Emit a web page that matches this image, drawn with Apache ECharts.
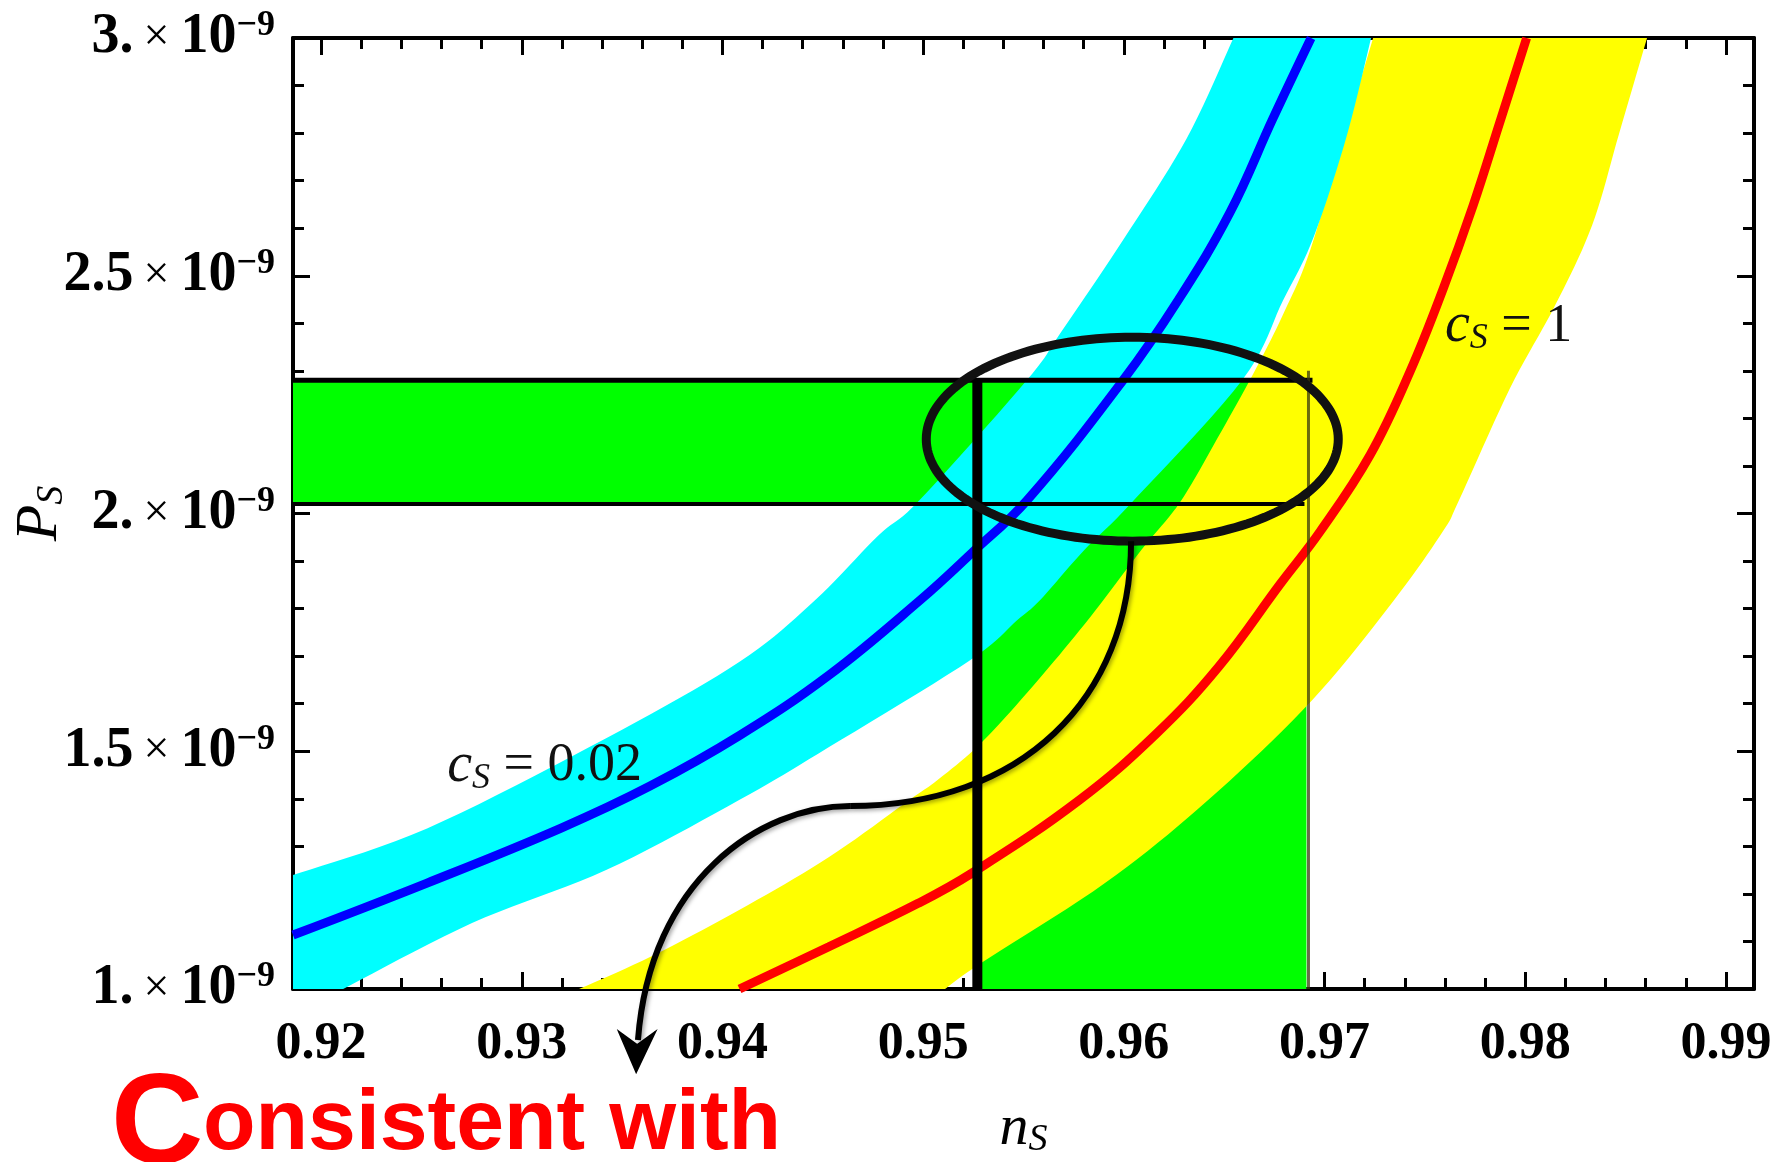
<!DOCTYPE html>
<html><head><meta charset="utf-8">
<script src="https://cdn.jsdelivr.net/npm/echarts@6/dist/echarts.min.js"></script>
<style>html,body{margin:0;padding:0;background:#fff}#c{width:1789px;height:1162px}</style>
</head><body><div id="c"></div>
<script>
// ---- axis ticks ----
const nsTicks = [0.92, 0.93, 0.94, 0.95, 0.96, 0.97, 0.98, 0.99];
const nsMinorTicks = [0.922,0.924,0.926,0.928,0.932,0.934,0.936,0.938,0.942,0.944,0.946,0.948,0.952,0.954,0.956,0.958,0.962,0.964,0.966,0.968,0.972,0.974,0.976,0.978,0.982,0.984,0.986,0.988];
const psTicks = [1, 1.5, 2, 2.5, 3];               // in units of 10^-9
const psTickLabels = ['1.', '1.5', '2.', '2.5', '3.'];
const nsRange = [0.9186, 0.9914];
const psRange = [1, 3];

// ---- curves (n_s, P_s / 1e-9) ----
const blueLine = [[0.9186,1.1135],[0.92528,1.2228],[0.93196,1.3384],[0.93639,1.4267],[0.94088,1.5339],[0.94531,1.66],[0.94985,1.8177],[0.95241,1.9164],[0.95518,2.0279],[0.95996,2.2801],[0.9627,2.4482],[0.96529,2.6332],[0.96743,2.8308],[0.96933,3.0]];
const redLine = [[0.94085,1.0],[0.9453,1.0889],[0.94975,1.1801],[0.95241,1.2432],[0.95778,1.3973],[0.96163,1.5375],[0.96472,1.6775],[0.96781,1.8528],[0.96978,1.9621],[0.97227,2.1231],[0.97426,2.2984],[0.97592,2.4735],[0.97741,2.6486],[0.97874,2.8238],[0.98007,3.0]];

// band edges, listed bottom -> top
const cyanUpperEdge = [[0.9186,1.2396],[0.92528,1.3378],[0.93418,1.527],[0.94085,1.688],[0.94461,1.8177],[0.94778,1.9543],[0.9498,2.0273],[0.95512,2.278],[0.9569,2.3831],[0.96001,2.5785],[0.96313,2.7887],[0.96546,3.0]];
const cyanLowerEdge = [[0.9211,1.0],[0.92752,1.1387],[0.9342,1.2501],[0.94083,1.3973],[0.94531,1.5087],[0.95234,1.6915],[0.95468,1.7756],[0.95582,1.8177],[0.95802,1.9228],[0.96031,2.0194],[0.96589,2.2801],[0.96793,2.4482],[0.96943,2.5785],[0.97107,2.7887],[0.97232,3.0]];
const yellowUpperEdge = [[0.93285,1.0],[0.93639,1.0673],[0.94083,1.1661],[0.94531,1.2775],[0.9493,1.3973],[0.95084,1.4435],[0.95303,1.5234],[0.95572,1.6495],[0.95832,1.7819],[0.96086,1.9228],[0.9628,2.0237],[0.96469,2.1603],[0.96654,2.3011],[0.96803,2.4272],[0.96928,2.5533],[0.97092,2.7887],[0.97242,3.0]];
const yellowLowerEdge = [[0.95109,1.0],[0.95289,1.0547],[0.95906,1.2228],[0.9642,1.3973],[0.96938,1.6075],[0.97346,1.8177],[0.9759,1.9627],[0.9767,2.0278],[0.97924,2.2633],[0.98149,2.4377],[0.98333,2.6059],[0.98468,2.7993],[0.98607,3.0]];

// observational window
const obsNs = [0.9527, 0.9691];
const obsPs = [2.02, 2.28];

// annotation (data coordinates)
const ellipseCenter = [0.96042, 2.1563];
const ellipseRadii = [0.010264, 0.2144];
const arrowCurve = [[0.96036,1.9417],[0.96036,1.6075],[0.95483,1.3847],[0.94636,1.3847],[0.94187,1.3847],[0.93639,1.2291],[0.93579,0.8928]];
const arrowHead = [[0.93485,0.9096],[0.9357,0.8256],[0.93664,0.9096],[0.93575,0.8823]];
const label002 = [0.92628, 1.4687];
const label1 = [0.976, 2.3936];

const SERIF = '"Liberation Serif","DejaVu Serif",serif';

// Catmull-Rom smoothing of an already-projected edge (pixel space)
function smoothEdge(px) {
  const out = [], n = px.length, steps = 10;
  for (let i = 0; i < n - 1; i++) {
    const p0 = px[Math.max(i - 1, 0)], p1 = px[i], p2 = px[i + 1], p3 = px[Math.min(i + 2, n - 1)];
    for (let s = 0; s < steps; s++) {
      const t = s / steps, t2 = t * t, t3 = t2 * t;
      const f = function (a, b, c, d) {
        return 0.5 * ((2 * b) + (-a + c) * t + (2 * a - 5 * b + 4 * c - d) * t2 + (-a + 3 * b - 3 * c + d) * t3);
      };
      out.push([f(p0[0], p1[0], p2[0], p3[0]), f(p0[1], p1[1], p2[1], p3[1])]);
    }
  }
  out.push(px[n - 1]);
  return out;
}

function bandSeries(parts, color, z) {
  const all = [].concat.apply([], parts.map(function (p) { return p.pts; }));
  return {
    type: 'custom', silent: true, z: z, data: all, encode: {x: 0, y: 1},
    renderItem: function (params, api) {
      if (params.dataIndex !== 0) return null;
      let pts = [];
      parts.forEach(function (p) {
        const px = p.pts.map(function (v) { return api.coord(v); });
        pts = pts.concat(p.smooth ? smoothEdge(px) : px);
      });
      return {type: 'polygon', shape: {points: pts}, style: {fill: color}};
    }
  };
}

const greenPoly = [[nsRange[0], obsPs[0]], [nsRange[0], obsPs[1]], [obsNs[1], obsPs[1]], [obsNs[1], psRange[0]], [obsNs[0], psRange[0]], [obsNs[0], obsPs[0]]];

function segLine(pts, width, color, z, opacity) {
  return {type: 'line', data: pts, symbol: 'none', silent: true, z: z, animation: false,
    lineStyle: {color: color, width: width, opacity: opacity == null ? 1 : opacity}};
}

const axisLineStyle = {show: true, lineStyle: {color: '#000', width: 4}};
function xAx(pos, major) {
  return {
    type: 'value', position: pos, min: nsRange[0], max: nsRange[1],
    axisLine: major ? axisLineStyle : {show: false},
    splitLine: {show: false},
    axisTick: {show: true, inside: true, length: major ? 17 : 11, customValues: major ? nsTicks : nsMinorTicks,
      lineStyle: {color: '#000', width: 3}},
    axisLabel: (major && pos === 'bottom') ? {
      show: true, customValues: nsTicks, margin: 30,
      formatter: function (v) { return v.toFixed(2); },
      fontFamily: SERIF, fontSize: 52, fontWeight: 'bold', color: '#000'
    } : {show: false},
    name: (major && pos === 'bottom') ? '{n|n}{s|S}' : '',
    nameLocation: 'middle', nameGap: 110, nameMoveOverlap: false,
    nameTextStyle: {rich: {
      n: {fontFamily: SERIF, fontStyle: 'italic', fontSize: 58, color: '#000', lineHeight: 60},
      s: {fontFamily: SERIF, fontStyle: 'italic', fontSize: 38, color: '#000', verticalAlign: 'bottom', lineHeight: 34}
    }}
  };
}
function yAx(pos) {
  const left = pos === 'left';
  return {
    type: 'value', position: pos, min: psRange[0], max: psRange[1], interval: 0.5,
    axisLine: axisLineStyle, splitLine: {show: false}, minorSplitLine: {show: false},
    axisTick: {show: true, inside: true, length: 17, lineStyle: {color: '#000', width: 3}},
    minorTick: {show: true, splitNumber: 5, length: 11, lineStyle: {color: '#000', width: 3}},
    axisLabel: left ? {
      show: true, margin: 18,
      formatter: function (v) {
        const i = psTicks.indexOf(v);
        return '{m|' + (i >= 0 ? psTickLabels[i] : v) + '}{x|\u00d7}{m|10}{s|\u22129}';
      },
      rich: {
        m: {fontFamily: SERIF, fontSize: 56, fontWeight: 'bold', color: '#000', lineHeight: 60},
        x: {fontFamily: SERIF, fontSize: 46, color: '#000', lineHeight: 60, padding: [0, 11, 0, 10]},
        s: {fontFamily: SERIF, fontSize: 36, fontWeight: 'bold', color: '#000', verticalAlign: 'top', lineHeight: 26}
      }
    } : {show: false},
    name: left ? '{p|P}{s|S}' : '',
    nameLocation: 'middle', nameRotate: 90, nameGap: 222, nameMoveOverlap: false,
    nameTextStyle: {rich: {
      p: {fontFamily: SERIF, fontStyle: 'italic', fontSize: 60, color: '#000', lineHeight: 62},
      s: {fontFamily: SERIF, fontStyle: 'italic', fontSize: 38, color: '#000', verticalAlign: 'bottom', lineHeight: 34}
    }}
  };
}

const annotationSeries = {
  type: 'custom', silent: true, z: 20, clip: false, data: [ellipseCenter], encode: {x: 0, y: 1},
  renderItem: function (params, api) {
    const c = api.coord(ellipseCenter);
    const r = api.size(ellipseRadii);
    const pts = [];
    for (let k = 0; k < 180; k++) {
      const t = k / 180 * Math.PI * 2;
      pts.push([c[0] + r[0] * Math.cos(t), c[1] + r[1] * Math.sin(t)]);
    }
    const a = arrowCurve.map(function (v) { return api.coord(v); });
    const h = arrowHead.map(function (v) { return api.coord(v); });
    const l1 = api.coord(label002), l2 = api.coord(label1);
    const shadow = {shadowBlur: 4, shadowColor: 'rgba(0,0,0,0.35)', shadowOffsetX: 2, shadowOffsetY: 2};
    const csRich = {
      c: {fontFamily: SERIF, fontStyle: 'italic', fontSize: 56, fill: '#111', lineHeight: 60},
      s: {fontFamily: SERIF, fontStyle: 'italic', fontSize: 36, fill: '#111', verticalAlign: 'bottom', lineHeight: 34},
      t: {fontFamily: SERIF, fontSize: 54, fill: '#111', lineHeight: 60}
    };
    return {type: 'group', children: [
      {type: 'text', style: {x: l1[0], y: l1[1], text: '{c|c}{s|S}{t| = 0.02}', rich: csRich, align: 'left', verticalAlign: 'middle'}},
      {type: 'text', style: {x: l2[0], y: l2[1], text: '{c|c}{s|S}{t| = 1}', rich: csRich, align: 'left', verticalAlign: 'middle'}},
      {type: 'polygon', shape: {points: pts}, style: {fill: null, stroke: '#111', lineWidth: 9}},
      {type: 'bezierCurve', shape: {x1: a[0][0], y1: a[0][1], cpx1: a[1][0], cpy1: a[1][1], cpx2: a[2][0], cpy2: a[2][1], x2: a[3][0], y2: a[3][1]},
        style: Object.assign({fill: null, stroke: '#000', lineWidth: 6}, shadow)},
      {type: 'bezierCurve', shape: {x1: a[3][0], y1: a[3][1], cpx1: a[4][0], cpy1: a[4][1], cpx2: a[5][0], cpy2: a[5][1], x2: a[6][0], y2: a[6][1]},
        style: Object.assign({fill: null, stroke: '#000', lineWidth: 6}, shadow)},
      {type: 'polygon', shape: {points: h}, style: {fill: '#000', stroke: '#000', lineWidth: 2}}
    ]};
  }
};

const chart = echarts.init(document.getElementById('c'), null, {renderer: 'canvas'});
chart.setOption({
  animation: false,
  backgroundColor: '#fff',
  grid: {left: 293, right: 35, top: 38, bottom: 173, containLabel: false, outerBoundsMode: 'none'},
  xAxis: [xAx('bottom', true), xAx('bottom', false), xAx('top', true), xAx('top', false)],
  yAxis: [yAx('left'), yAx('right')],
  series: [
    bandSeries([{pts: greenPoly, smooth: false}], '#00ff00', 1),
    bandSeries([{pts: yellowUpperEdge, smooth: true}, {pts: yellowLowerEdge.slice().reverse(), smooth: true}], '#ffff00', 2),
    bandSeries([{pts: [[nsRange[0], psRange[0]]], smooth: false}, {pts: cyanUpperEdge, smooth: true}, {pts: cyanLowerEdge.slice().reverse(), smooth: true}], '#00ffff', 3),
    Object.assign(segLine(redLine, 9, '#ff0000', 5), {smooth: 0.4}),
    Object.assign(segLine(blueLine, 9, '#0000ff', 5), {smooth: 0.4}),
    segLine([[nsRange[0], obsPs[1]], [0.9694, obsPs[1]]], 5, '#000', 8),
    segLine([[nsRange[0], obsPs[0]], [0.9690, obsPs[0]]], 4, '#000', 8),
    segLine([[obsNs[0], psRange[0]], [obsNs[0], obsPs[1]]], 10, '#000', 9),
    segLine([[0.9692, psRange[0]], [0.9692, 2.30]], 3, '#3a3a10', 8, 0.75),
    annotationSeries
  ],
  graphic: [
    {type: 'text', x: 111, y: 1128, z: 100, style: {text: 'C', font: 'bold 128px "Liberation Sans"', fill: '#ff0000', align: 'left', verticalAlign: 'middle'}},
    {type: 'text', x: 203, y: 1125, z: 100, style: {text: 'onsistent with', font: 'bold 86px "Liberation Sans"', fill: '#ff0000', align: 'left', verticalAlign: 'middle'}}
  ]
});
</script>
</body></html>
